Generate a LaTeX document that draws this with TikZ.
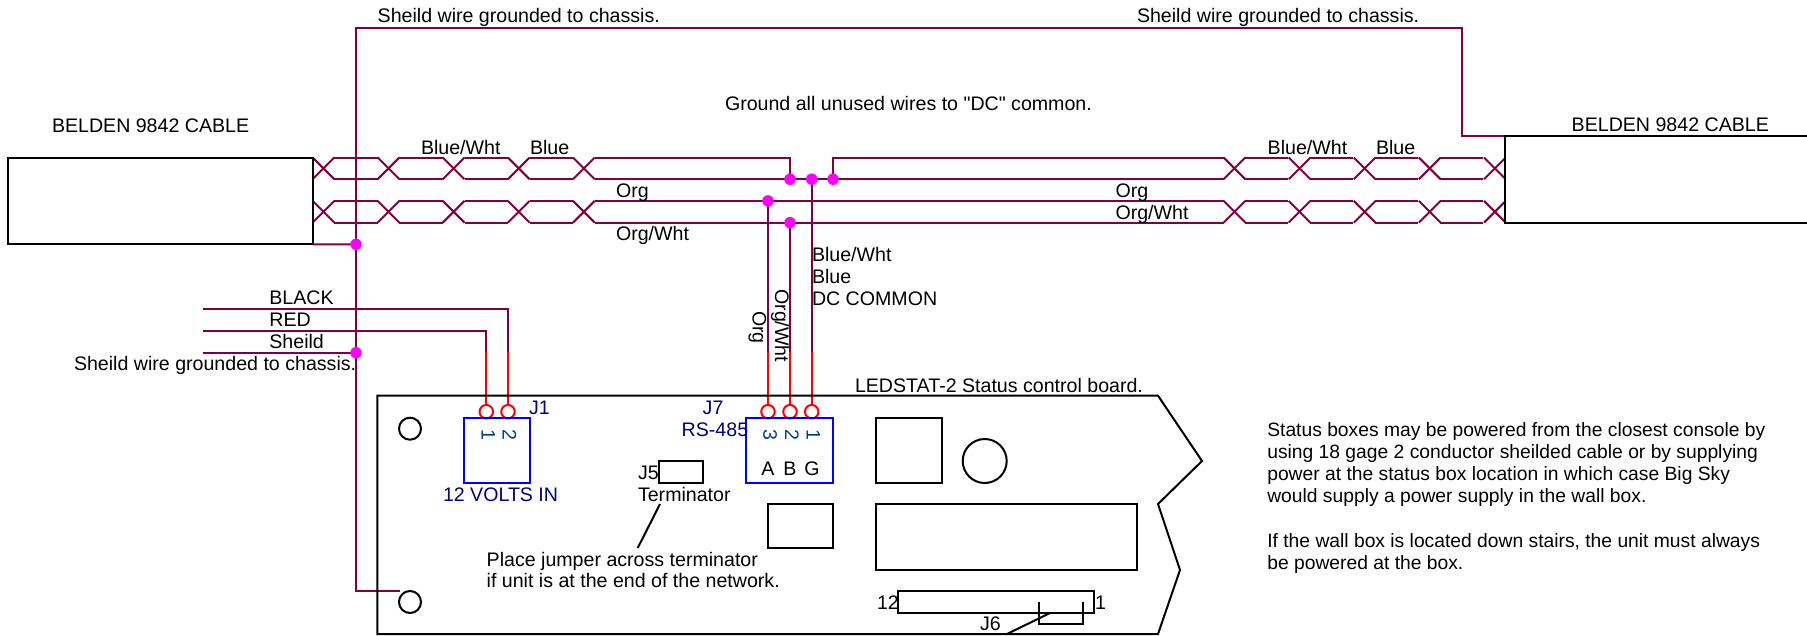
\documentclass[tikz,border=0pt]{standalone}
\usepackage{fontspec}
\newfontfamily\plainf{Liberation Sans}
\definecolor{wire}{HTML}{800040}
\definecolor{dotc}{HTML}{FF00FF}
\definecolor{termred}{HTML}{FF0000}
\definecolor{boxblue}{HTML}{0000FF}
\definecolor{navytxt}{HTML}{000080}
\definecolor{pintxt}{HTML}{004080}
\newcommand\fs{\plainf\fontsize{19.6pt}{21.7pt}\selectfont}
\newcommand\fsn{\plainf\fontsize{19.27pt}{21.7pt}\selectfont}
\tikzset{
  wireln/.style={draw=wire,line width=2pt,line join=miter},
  redln/.style={draw=termred,line width=2pt},
  blk/.style={draw=black,line width=2pt},
  junction/.style={circle,fill=dotc,inner sep=0pt,outer sep=0pt,minimum size=11.5pt},
  term/.style={circle,draw=termred,line width=2pt,fill=white,inner sep=0pt,outer sep=0pt,minimum size=13.5pt},
  hole/.style={circle,draw=black,line width=2pt,inner sep=0pt,outer sep=0pt},
  rbox/.style={draw,line width=2pt,inner sep=0pt,outer sep=0pt,anchor=north west},
  bluebox/.style={rbox,draw=boxblue},
  blackbox/.style={rbox,draw=black},
  lbl/.style={anchor=base west,inner sep=0pt,outer sep=0pt,font=\fs,text=black},
  note/.style={lbl,font=\fsn},
  blbl/.style={lbl,text=navytxt},
  vlbl/.style={lbl,rotate=-90},
  pin/.style={anchor=base,inner sep=0pt,outer sep=0pt,font=\fs,text=pintxt,rotate=-90},
}
\newcommand\twist[2]{% y top, y bottom of a pair: all crossings and the lengths between them
  \foreach \xa in {312.6,377.7,442.8,507.9,573,1223.6,1288.7,1353.8,1418.9,1484}{
    \draw[wireln] (\xa,#1) -- ({\xa+21.7},#2);
    \draw[wireln] (\xa,#2) -- ({\xa+21.7},#1);
  }
  \foreach \xa in {334.3,399.4,464.5,529.6,1244.7,1309.8,1374.9,1440}{
    \draw[wireln] (\xa,#1) -- ({\xa+43.4},#1);
    \draw[wireln] (\xa,#2) -- ({\xa+43.4},#2);
  }
}
\begin{document}
\begin{tikzpicture}[x=1pt,y=-1pt]
\useasboundingbox (0,0) rectangle (1807,635);

% coordinates of wire ends
\coordinate (pl) at (594.7,157.5);
\coordinate (ql) at (594.7,179.2);
\coordinate (qr) at (1223.6,179.2);
\coordinate (pr) at (1223.6,157.5);
\coordinate (ol) at (594.7,200.9);
\coordinate (or) at (1223.6,200.9);
\coordinate (wl) at (594.7,222.6);
\coordinate (wr) at (1223.6,222.6);
\coordinate (bend1) at (790,157.5);
\coordinate (bend2) at (833,157.5);
\coordinate (blackL) at (203,309.3);
\coordinate (blackB) at (508,309.3);
\coordinate (blackM) at (508,352);
\coordinate (redL) at (203,331);
\coordinate (redB) at (486.3,331);
\coordinate (redM) at (486.3,352);
\coordinate (shL) at (203,352.7);
\coordinate (orgM) at (768,352);
\coordinate (whtM) at (790,352);
\coordinate (bluM) at (811.7,352);
\coordinate (sa) at (1505.3,136);
\coordinate (sb) at (1462,136);
\coordinate (sc) at (1462,28);
\coordinate (sd) at (356,28);
\coordinate (se) at (356,591);
\coordinate (sf) at (400,591);

% twisted pairs
\twist{157.5}{179.2}
\twist{200.9}{222.6}

% junctions
\coordinate (d1) at (790,179.2);
\coordinate (d2) at (811.7,179.2);
\coordinate (d3) at (833,179.2);
\coordinate (d4) at (768,200.9);
\coordinate (d5) at (790,222.6);
\coordinate (d6) at (356,244.3);
\coordinate (d7) at (356,352.7);

% terminals
\node[term] (t1) at (486.3,411.7) {};
\node[term] (t2) at (508,411.7) {};
\node[term] (t3) at (768,411.7) {};
\node[term] (t4) at (790,411.7) {};
\node[term] (t5) at (811.7,411.7) {};

% cable wires
\draw[wireln] (pl) -- (bend1) -- (d1);
\draw[wireln] (ql) -- (qr);
\draw[wireln] (pr) -- (bend2) -- (d3);
\draw[wireln] (ol) -- (or);
\draw[wireln] (wl) -- (wr);

% shield
\draw[wireln] (sa) -- (sb) -- (sc) -- (sd) -- (se) -- (sf);

% cable boxes
\node[blackbox,minimum width=304.6pt,minimum height=86.3pt] (cableL) at (8,158) {};
\draw[blk] (1807,136) -- (sa) -- (1505.3,222.6) -- (1807,222.6);
\draw[wireln] (cableL.south east) -- (d6);

% power wires
\draw[wireln] (blackL) -- (blackB) -- (blackM);
\draw[wireln] (redL) -- (redB) -- (redM);
\draw[wireln] (shL) -- (d7);
\draw[redln] (blackM) -- (t2);
\draw[redln] (redM) -- (t1);

% network drops
\draw[wireln] (d4) -- (orgM);
\draw[wireln] (d5) -- (whtM);
\draw[wireln] (d2) -- (bluM);
\draw[redln] (orgM) -- (t3);
\draw[redln] (whtM) -- (t4);
\draw[redln] (bluM) -- (t5);

% junction dots
\foreach \dn in {d1,d2,d3,d4,d5,d6,d7}{\node[junction] at (\dn) {};}

% board
\draw[blk] (377.3,395.7) -- (1158,395.7) -- (1202,461) -- (1158,504) -- (1180,570) -- (1158,634) -- (377.3,634) -- cycle;
\node[hole,minimum size=22pt] (h1) at (410,428.7) {};
\node[hole,minimum size=22pt] (h2) at (410,602) {};
\node[bluebox,minimum width=66pt,minimum height=65.3pt] (j1box) at (464,417.7) {};
\node[bluebox,minimum width=87pt,minimum height=65.3pt] (j7box) at (746,417.7) {};
\node[blackbox,minimum width=43.7pt,minimum height=22pt] (j5box) at (659.3,461) {};
\node[blackbox,minimum width=65.3pt,minimum height=43.7pt] (chipa) at (767.7,504.3) {};
\node[blackbox,minimum width=66pt,minimum height=65.3pt] (chipb) at (876,417.7) {};
\node[hole,minimum size=44pt] (can) at (984.7,461) {};
\node[blackbox,minimum width=261pt,minimum height=65.7pt] (chipc) at (876,504.3) {};
\node[blackbox,minimum width=196pt,minimum height=22pt] (j6box) at (898,591) {};
\draw[blk] (1039,601.7) -- (1039,624) -- (1082.7,624) -- (1082.7,601.7);
\coordinate (j6a) at (1050,613);
\coordinate (j6b) at (1007,634);
\draw[blk] (j6a) -- (j6b);
\coordinate (ta) at (660,504);
\coordinate (tb) at (637.7,548);
\draw[blk] (ta) -- (tb);

% top texts
\node[lbl] (n1) at (377.7,22.7) {Sheild wire grounded to chassis.};
\node[lbl] (n2) at (1137,22.7) {Sheild wire grounded to chassis.};
\node[lbl] (n3) at (725,110) {Ground all unused wires to "DC" common.};
\node[lbl] (n4) at (52,132) {BELDEN 9842 CABLE};
\node[lbl] (n5) at (1571.7,131.7) {BELDEN 9842 CABLE};
\node[lbl] (n6) at (421,154) {Blue/Wht};
\node[lbl] (n7) at (530,154) {Blue};
\node[lbl] (n8) at (1267.7,154) {Blue/Wht};
\node[lbl] (n9) at (1376,154) {Blue};
\node[lbl] (n10) at (616,197.7) {Org};
\node[lbl] (n11) at (616,240) {Org/Wht};
\node[lbl] (n12) at (1115.5,197.7) {Org};
\node[lbl] (n13) at (1115.5,219) {Org/Wht};
\node[lbl] (n14) at (812,261.7) {Blue/Wht};
\node[lbl] (n15) at (812,283.3) {Blue};
\node[lbl] (n16) at (812,305) {DC COMMON};
\node[vlbl] (n17) at (752.7,311) {Org};
\node[vlbl] (n18) at (775,289.3) {Org/Wht};
\node[lbl] (n19) at (269.4,304.7) {BLACK};
\node[lbl] (n20) at (269.4,326.7) {RED};
\node[lbl] (n21) at (269.4,348.7) {Sheild};
\node[lbl] (n22) at (74,370) {Sheild wire grounded to chassis.};
\node[lbl] (n23) at (855,392) {LEDSTAT-2 Status control board.};

% board texts
\node[blbl] (n24) at (529,414) {J1};
\node[blbl] (n25) at (702.7,414) {J7};
\node[blbl] (n26) at (681.7,436) {RS-485};
\node[blbl] (n27) at (443,501) {12 VOLTS IN};
\node[pin] (p1) at (481.7,434.5) {1};
\node[pin] (p2) at (502.7,434.5) {2};
\node[pin] (p3) at (763.3,434.5) {3};
\node[pin] (p4) at (785,434.5) {2};
\node[pin] (p5) at (806.7,434.5) {1};
\node[lbl,anchor=base] (n28) at (768,475) {A};
\node[lbl,anchor=base] (n29) at (790,475) {B};
\node[lbl,anchor=base] (n30) at (812,475) {G};
\node[lbl] (n31) at (638,479) {J5};
\node[lbl] (n32) at (638,501) {Terminator};
\node[lbl] (n33) at (486.7,566) {Place jumper across terminator};
\node[lbl] (n34) at (486.7,587.7) {if unit is at the end of the network.};
\node[lbl] (n35) at (877,609.3) {12};
\node[lbl] (n36) at (1095,609.3) {1};
\node[lbl] (n37) at (980,630.7) {J6};

% note
\node[note] (s1) at (1267.3,436) {Status boxes may be powered from the closest console by};
\node[note] (s2) at (1267.3,458.3) {using 18 gage 2 conductor sheilded cable or by supplying};
\node[note] (s3) at (1267.3,480.5) {power at the status box location in which case Big Sky};
\node[note] (s4) at (1267.3,502.5) {would supply a power supply in the wall box.};
\node[note] (s5) at (1267.3,547) {If the wall box is located down stairs, the unit must always};
\node[note] (s6) at (1267.3,569) {be powered at the box.};
\end{tikzpicture}
\end{document}
